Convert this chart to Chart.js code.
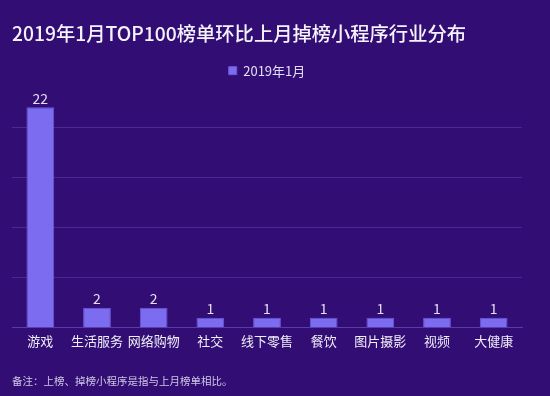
<!DOCTYPE html>
<html>
<head>
<meta charset="utf-8">
<script src="https://cdn.jsdelivr.net/npm/chart.js@4/dist/chart.umd.min.js"></script>
<style>
  html, body { margin: 0; padding: 0; background: #320d74; }
  #box { width: 550px; height: 396px; }
</style>
</head>
<body>
<div id="box"><canvas id="chart"></canvas></div>
<script>
// dados do grafico
var categories = ['游戏', '生活服务', '网络购物', '社交', '线下零售', '餐饮', '图片摄影', '视频', '大健康']
var dropCounts = [22, 2, 2, 1, 1, 1, 1, 1, 1]
var seriesName = '2019年1月'
var titleText = '2019年1月TOP100榜单环比上月掉榜小程序行业分布'
var noteText = '备注：上榜、掉榜小程序是指与上月榜单相比。'

var fontFamily = '"Noto Sans CJK SC", "Noto Sans", sans-serif'

/** escrever o valor por cima de cada barra */
var valueLabels = {
  id: 'valueLabels',
  afterDatasetsDraw(chart){
    var ctx = chart.ctx
    var meta = chart.getDatasetMeta(0)
    ctx.save()
    ctx.font = '14px ' + fontFamily
    ctx.fillStyle = '#e4def5'
    ctx.textAlign = 'center'
    ctx.textBaseline = 'bottom'
    meta.data.forEach(function(bar, i){
      ctx.fillText(chart.data.datasets[0].data[i], bar.x, bar.y - 2)
    })
    ctx.restore()
  }
}

var data = {
  labels: categories,
  datasets: [{
    label: seriesName,
    data: dropCounts,
    backgroundColor: '#7c6cf0',
    borderColor: '#6c58dc',
    borderWidth: 1,
    categoryPercentage: 1,
    barPercentage: 0.49
  }]
}

var options = {
  responsive: true,
  maintainAspectRatio: false,
  animation: false,
  layout: { padding: { left: 12, right: 28, top: 0, bottom: 0 } },
  plugins: {
    title: {
      display: true,
      text: titleText,
      align: 'start',
      color: '#f4f2fa',
      font: { family: fontFamily, size: 19.3, weight: 500 },
      padding: { top: 22, bottom: 9 }
    },
    subtitle: {
      display: true,
      text: noteText,
      position: 'bottom',
      align: 'start',
      color: '#cfc8e6',
      font: { family: fontFamily, size: 10.5 },
      padding: { top: 21, bottom: 9 }
    },
    legend: {
      display: true,
      labels: {
        color: '#e4def5',
        font: { family: fontFamily, size: 13 },
        boxWidth: 8,
        boxHeight: 8,
        padding: 10
      }
    },
    tooltip: { enabled: false }
  },
  scales: {
    x: {
      grid: { display: false, drawTicks: false },
      border: { color: '#5b3aae', width: 1 },
      ticks: {
        color: '#f0eef8',
        font: { family: fontFamily, size: 13 },
        maxRotation: 0,
        autoSkip: false,
        padding: 5
      }
    },
    y: {
      min: 0,
      max: 24,
      ticks: { display: false, stepSize: 5 },
      border: { display: false },
      grid: {
        drawTicks: false,
        color: function(c){
          if(c.tick.value === 0 || c.tick.value % 5 !== 0){
            return 'rgba(0,0,0,0)'
          }
          return '#4b2896'
        }
      }
    }
  }
}

new Chart('chart', { type: 'bar', data: data, options: options, plugins: [valueLabels] })
</script>
</body>
</html>
